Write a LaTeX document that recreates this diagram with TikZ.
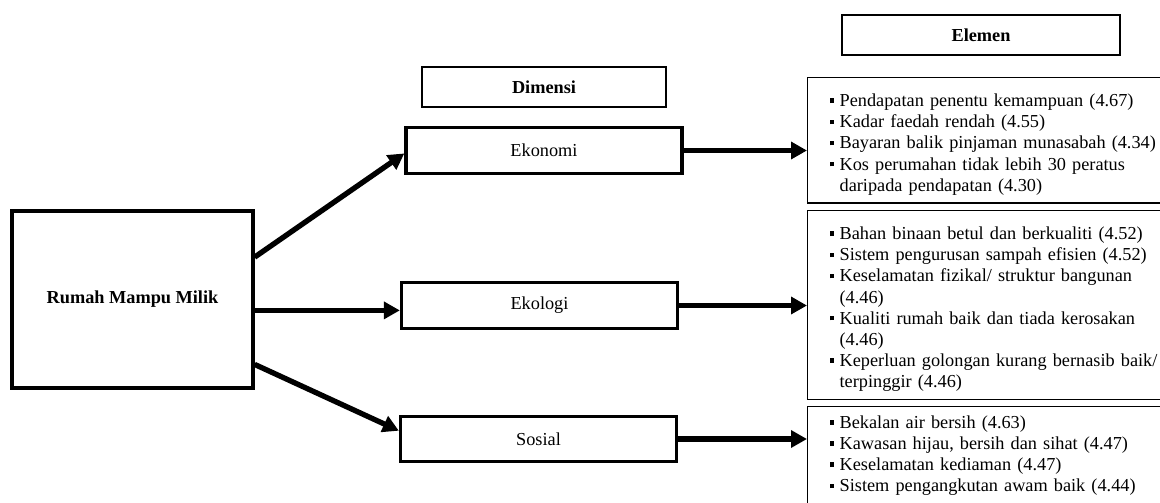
\documentclass[tikz,border=0pt]{standalone}
\usepackage{fontspec}
\setmainfont{Liberation Serif}
\usetikzlibrary{arrows.meta,calc}
\newcommand{\elitem}{\par\hangindent=0.25cm\hangafter=1\noindent
  \makebox[0.25cm][l]{\raisebox{0.2em}{\rule{3.3pt}{3.3pt}}}}
\newcommand{\elbreak}{\hfil\break}
\tikzset{
  rootbox/.style={draw,line width=2.3pt,minimum width=6.025cm,minimum height=4.425cm,
    font=\bfseries\fontsize{13pt}{15pt}\selectfont},
  dimbox/.style={draw,line width=2.3pt,minimum width=6.9cm,minimum height=1.14cm,
    font=\fontsize{13pt}{15pt}\selectfont},
  headbox/.style={draw,line width=0.9pt,minimum height=1.0cm,
    font=\bfseries\fontsize{13pt}{15pt}\selectfont},
  elembox/.style={draw,line width=0.9pt,anchor=north west,text width=9.5cm,
    inner xsep=0.55cm,inner ysep=0.2cm,align=left,
    font=\fontsize{13pt}{15pt}\selectfont},
  bigarrow/.style={-{Triangle[length=0.4cm,width=0.42cm]},line width=3.8pt}
}
\begin{document}
\begin{tikzpicture}[x=0.025cm,y=-0.025cm]
  \useasboundingbox (0,0) rectangle (1160,502);

  \node[rootbox] (root) at (132.5,299.5) {Rumah Mampu Milik};

  \node[headbox,minimum width=6.1cm] (dimensihead) at (544,87) {Dimensi};
  \node[dimbox] (ekonomi) at (544,150.5) {Ekonomi};
  \node[dimbox] (ekologi) at (539.5,305.5) {Ekologi};
  \node[dimbox] (sosial) at (538.5,439) {Sosial};

  \node[headbox,minimum width=6.95cm] (elemenhead) at (981,35) {Elemen};
  \node[elembox,minimum height=2.975cm] (elemekonomi) at (807,77) {%
    \elitem Pendapatan penentu kemampuan (4.67)
    \elitem Kadar faedah rendah (4.55)
    \elitem Bayaran balik pinjaman munasabah (4.34)
    \elitem Kos perumahan tidak lebih 30 peratus\elbreak daripada pendapatan (4.30)\par};
  \node[elembox,minimum height=4.4cm] (elemekologi) at (807,210) {%
    \elitem Bahan binaan betul dan berkualiti (4.52)
    \elitem Sistem pengurusan sampah efisien (4.52)
    \elitem Keselamatan fizikal/ struktur bangunan\elbreak (4.46)
    \elitem Kualiti rumah baik dan tiada kerosakan\elbreak (4.46)
    \elitem Keperluan golongan kurang bernasib baik/\elbreak terpinggir (4.46)\par};
  \node[elembox,inner ysep=0.02cm,text depth=3cm] (elemsosial) at (807,406) {%
    \elitem Bekalan air bersih (4.63)
    \elitem Kawasan hijau, bersih dan sihat (4.47)
    \elitem Keselamatan kediaman (4.47)
    \elitem Sistem pengangkutan awam baik (4.44)\par};

  \coordinate (ekologiin) at ($(ekologi.north west)!0.6!(ekologi.south west)$);
  \draw[bigarrow] ($(root.north east)!0.265!(root.south east)$)
    -- ($(ekonomi.north west)!0.56!(ekonomi.south west)$);
  \draw[bigarrow] (root.east |- ekologiin) -- (ekologiin);
  \draw[bigarrow] ($(root.north east)!0.86!(root.south east)$)
    -- ($(sosial.north west)!0.33!(sosial.south west)$);

  \draw[bigarrow] (ekonomi.east) -- (ekonomi.east -| elemekonomi.west);
  \draw[bigarrow] (ekologi.east) -- (ekologi.east -| elemekologi.west);
  \draw[bigarrow] (sosial.east) -- (sosial.east -| elemsosial.west);
\end{tikzpicture}
\end{document}
